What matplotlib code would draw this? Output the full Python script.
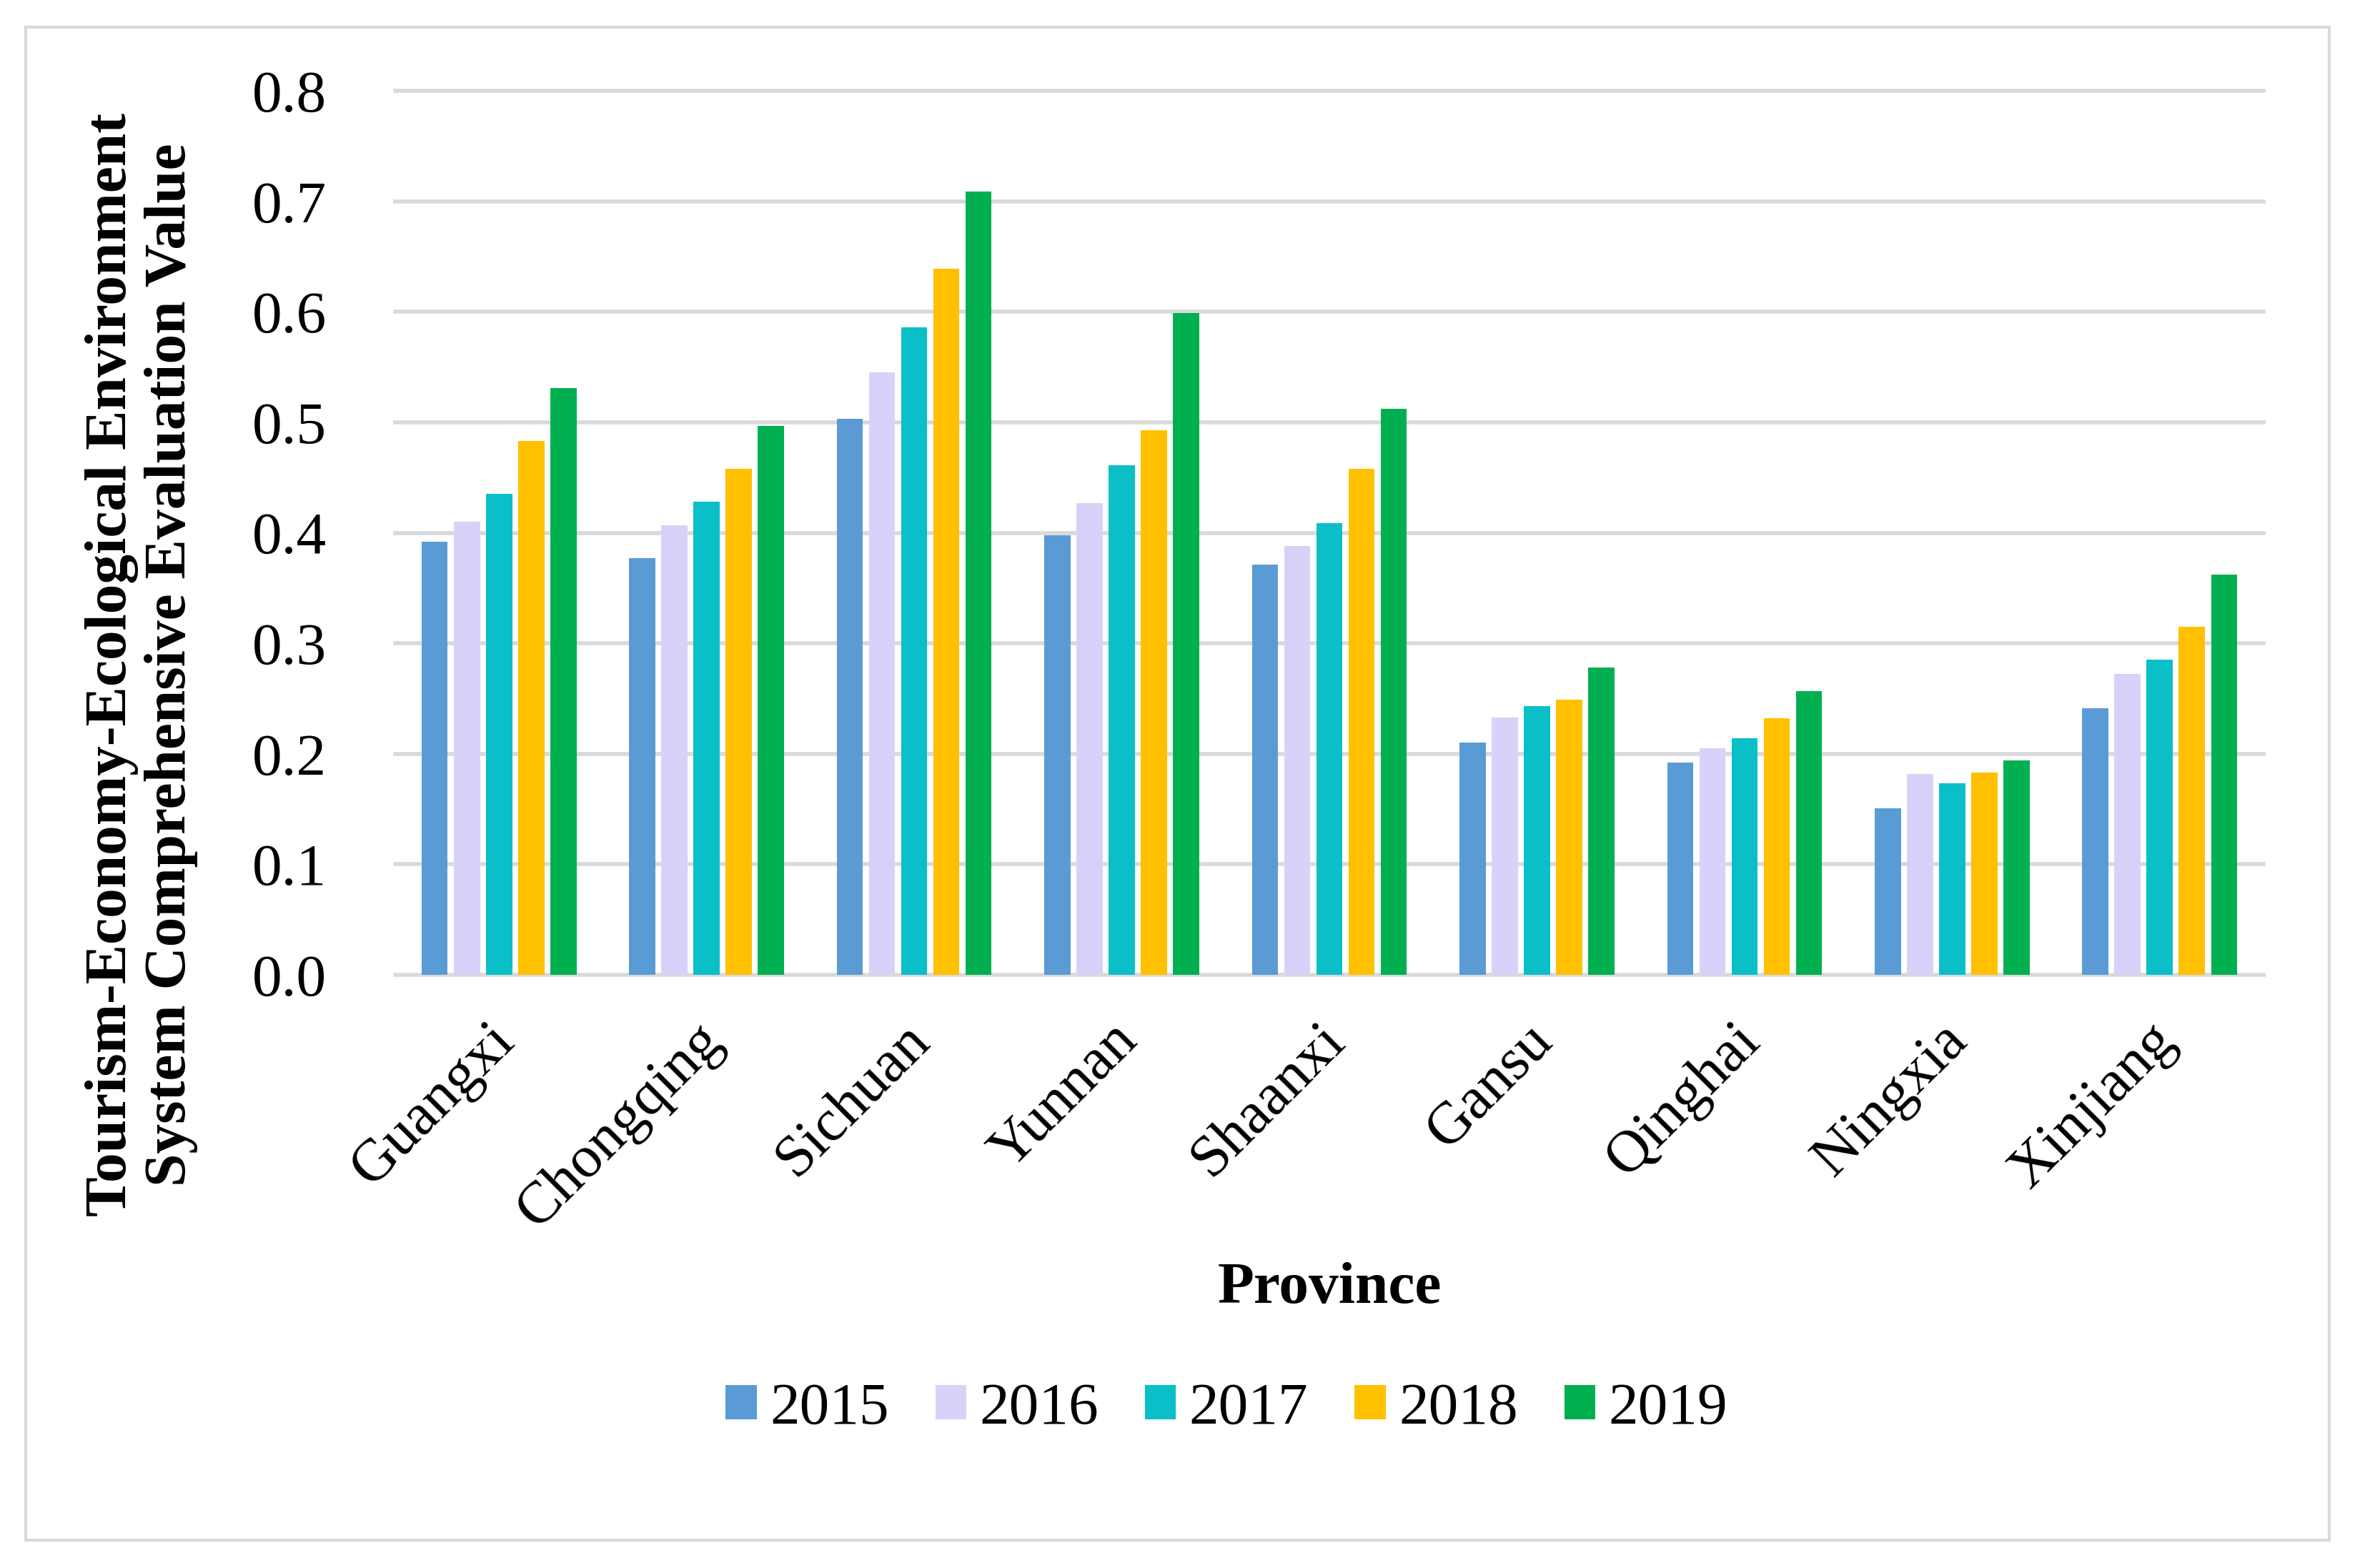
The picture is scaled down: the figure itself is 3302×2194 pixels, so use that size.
import numpy as np
import matplotlib
matplotlib.use('Agg')
import matplotlib.pyplot as plt
from matplotlib.patches import Rectangle
from matplotlib.transforms import ScaledTranslation

plt.rcParams['font.family'] = ['Liberation Serif', 'DejaVu Serif']

# data
provinces = ['Guangxi', 'Chongqing', 'Sichuan', 'Yunnan', 'Shaanxi',
             'Gansu', 'Qinghai', 'Ningxia', 'Xinjiang']
years = ['2015', '2016', '2017', '2018', '2019']
v2015 = [0.392, 0.377, 0.503, 0.398, 0.371, 0.210, 0.192, 0.151, 0.241]
v2016 = [0.410, 0.407, 0.545, 0.427, 0.388, 0.233, 0.205, 0.182, 0.272]
v2017 = [0.435, 0.428, 0.586, 0.461, 0.409, 0.243, 0.214, 0.173, 0.285]
v2018 = [0.483, 0.458, 0.639, 0.493, 0.458, 0.249, 0.232, 0.183, 0.315]
v2019 = [0.531, 0.497, 0.709, 0.599, 0.512, 0.278, 0.257, 0.194, 0.362]
series = [v2015, v2016, v2017, v2018, v2019]
colors = ['#5B9BD5', '#D9D1FA', '#0ABFC8', '#FFC000', '#00B050']

fig = plt.figure(figsize=(33.02, 21.94), dpi=100)
ax = fig.add_axes([553 / 3302, 1 - 1364 / 2194, (3167 - 553) / 3302, (1364 - 127) / 2194])

x = np.arange(len(provinces))
step = 0.155
width = 0.126
for i, vals in enumerate(series):
    ax.bar(x + (i - 2) * step, vals, width, color=colors[i], label=years[i], zorder=3)

ax.set_xlim(-0.5, len(provinces) - 0.5)
ax.set_ylim(0, 0.8)
ax.set_yticks(np.arange(0, 0.81, 0.1))
ax.set_yticklabels([f'{t:.1f}' for t in np.arange(0, 0.81, 0.1)])
ax.yaxis.grid(True, color='#D9D9D9', linewidth=4)
for gl in ax.get_ygridlines():
    gl.set_clip_on(False)
ax.set_axisbelow(True)
for s in ax.spines.values():
    s.set_visible(False)

ax.tick_params(axis='y', length=0, pad=69, labelsize=60)
ax.tick_params(axis='x', length=0, pad=58, labelsize=60)
ax.set_xticks(x)
ax.set_xticklabels(provinces, rotation=45, ha='right', va='center', rotation_mode='anchor')
shift = ScaledTranslation(0.1, 0, fig.dpi_scale_trans)
for lbl in ax.get_xticklabels():
    lbl.set_transform(lbl.get_transform() + shift)

fig.text(198 / 3302, 1 - 930 / 2194,
         'Tourism-Economy-Ecological Environment\nSystem Comprehensive Evaluation Value',
         rotation=90, ha='center', va='center', fontsize=60, fontweight='bold',
         linespacing=1.15)
fig.text(1860 / 3302, 1 - 1803 / 2194, 'Province', ha='center', va='center',
         fontsize=60, fontweight='bold')

fig.legend(loc='center', bbox_to_anchor=(1716 / 3302, 1 - 1972 / 2194), ncol=5,
           frameon=False, fontsize=60, handlelength=0.52, handleheight=0.5,
           handletextpad=0.22, columnspacing=0.78, borderpad=0)

fig.patches.append(Rectangle((36 / 3302, 1 - 2155 / 2194), (3259 - 36) / 3302, (2155 - 38) / 2194,
                             transform=fig.transFigure, fill=False, edgecolor='#D9D9D9', linewidth=3))

fig.savefig('out.png', dpi=100, facecolor='white')
